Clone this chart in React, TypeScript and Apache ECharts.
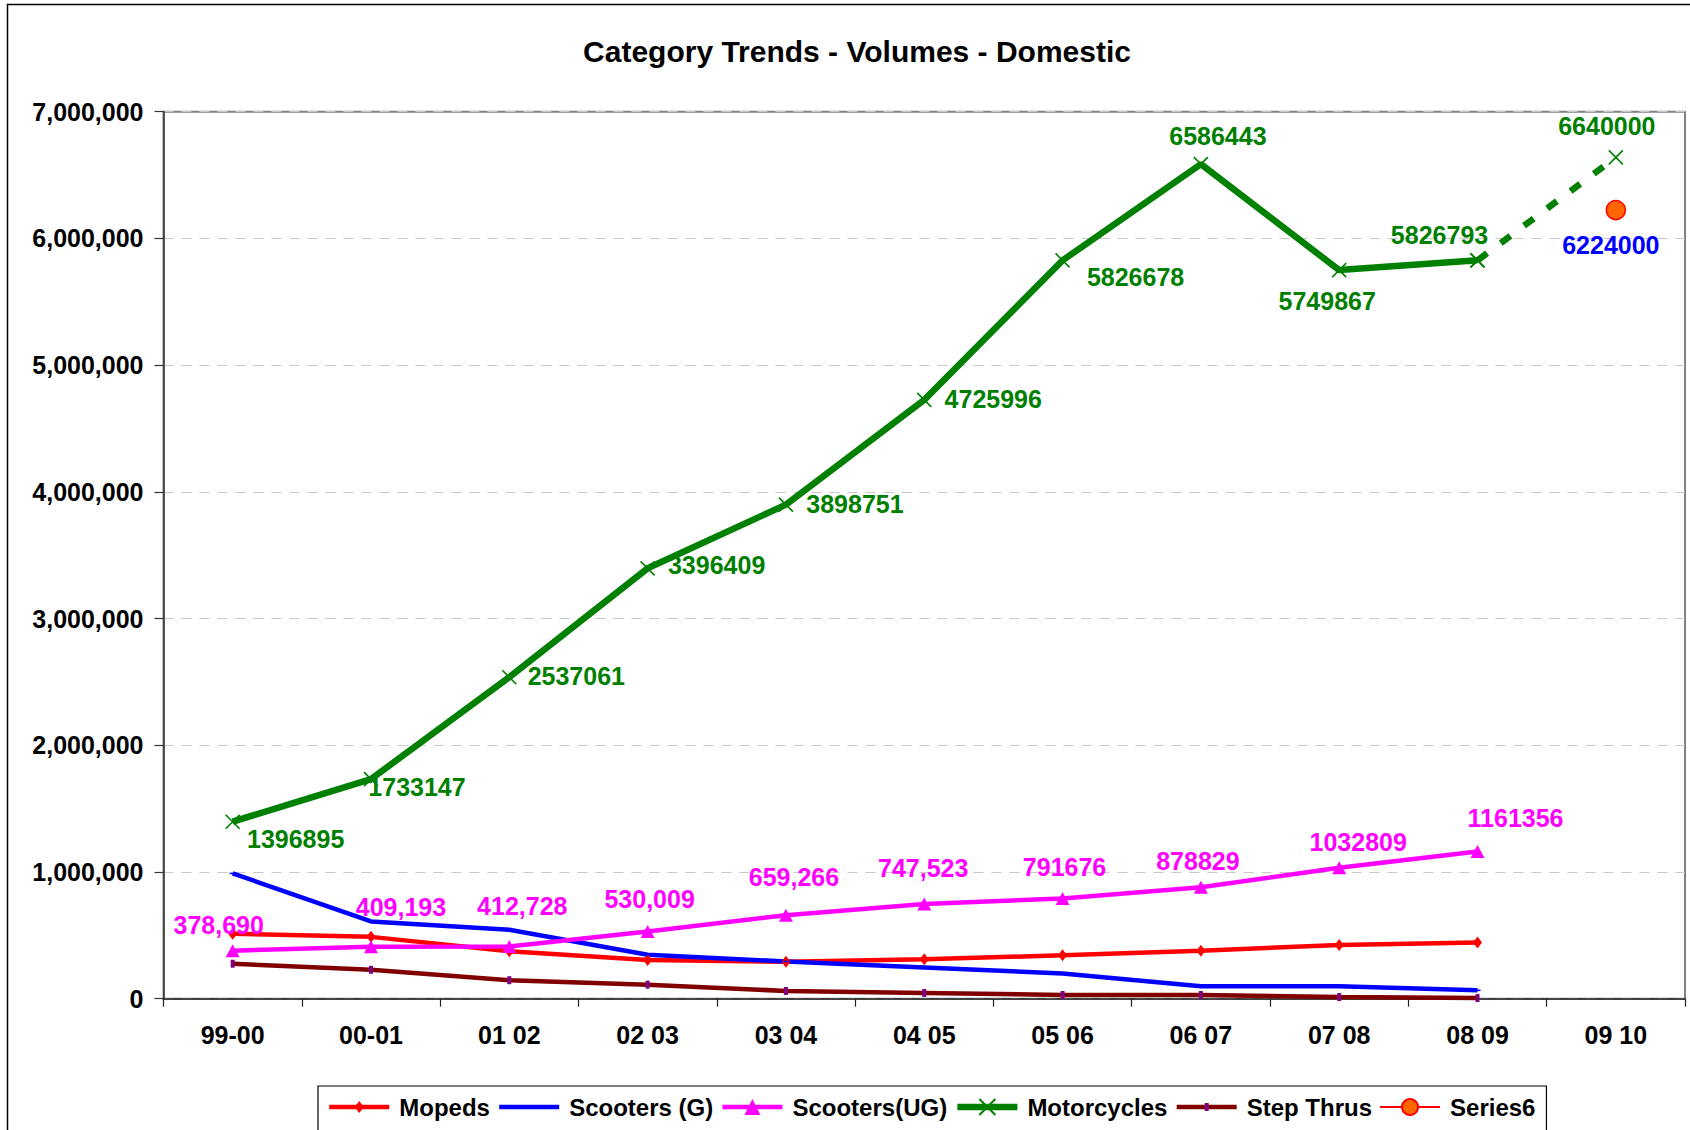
import React, { useEffect, useRef } from "react";
import * as echarts from "echarts";

const categories = ["99-00", "00-01", "01 02", "02 03", "03 04", "04 05", "05 06", "06 07", "07 08", "08 09", "09 10"];
const mopeds = [512000, 488000, 374000, 305000, 292000, 312000, 342000, 379000, 424000, 443000, null];
const scootersG = [989000, 610000, 544000, 347000, 294000, 247000, 199000, 98000, 98000, 66000, null];
const scootersUG = [378690, 409193, 412728, 530009, 659266, 747523, 791676, 878829, 1032809, 1161356, null];
const motorcycles = [1396895, 1733147, 2537061, 3396409, 3898751, 4725996, 5826678, 6586443, 5749867, 5826793, null];
const motorcyclesEst = [null, null, null, null, null, null, null, null, null, 5826793, 6640000];
const stepThrus = [276000, 228000, 146000, 111000, 61000, 45000, 29000, 29000, 13000, 5000, null];
const series6 = [null, null, null, null, null, null, null, null, null, null, 6224000];

const yTicks = { min: 0, max: 7000000, interval: 1000000 };
const ugCommaCount = 6; // first labels are shown with thousands separators

// label centre offsets from each point (px)
const motoLabelOffsets = [[63, 17], [46, 8], [67, -1], [69, -3], [69, -1], [69, -1], [73, 17], [17, -28], [-12, 31], [-38, -25]];
const motoEstLabelOffset = [-9, -31];
const ugLabelOffsets = [[-14, -26], [30, -40], [13, -40], [2, -33], [8, -38], [-1, -36], [2, -31], [-3, -26], [19, -26], [38, -34]];
const series6LabelOffset = [-5, 35];

const FONT = "'Liberation Sans', Arial, sans-serif";

// marker shapes drawn inside a 16x16 box (so legend icons keep their proportions)
const SYM_DIAMOND = "path://M0,0M16,16M8,2L12.5,8L8,14L3.5,8Z";
const SYM_DASH = "path://M0,0M16,16M5,7.2H11V8.8H5Z";
const SYM_BAR = "path://M0,0M16,16M6,4H10V12H6Z";
const SYM_X = "path://M1,1L15,15M15,1L1,15";

function labelled(values: (number | null)[], offsets: number[][], color: string, fmt: (v: number, i: number) => string) {
  return values.map((v, i) => {
    if (v == null) return null;
    const off = offsets[i];
    if (!off) return { value: v };
    return {
      value: v,
      label: {
        show: true,
        position: "inside",
        align: "center",
        verticalAlign: "middle",
        offset: off,
        color,
        fontSize: 25,
        fontWeight: "bold",
        fontFamily: FONT,
        textBorderWidth: 0,
        formatter: () => fmt(v, i),
      },
    };
  });
}

export default function App() {
  const ref = useRef<HTMLDivElement>(null);
  useEffect(() => {
    if (!ref.current) return;
    const chart = echarts.init(ref.current, undefined, { renderer: "svg" });
    const estOffsets: number[][] = [];
    estOffsets[10] = motoEstLabelOffset;
    const s6Offsets: number[][] = [];
    s6Offsets[10] = series6LabelOffset;

    chart.setOption({
      animation: false,
      backgroundColor: "#ffffff",
      textStyle: { fontFamily: FONT },
      title: {
        text: "Category Trends - Volumes - Domestic",
        left: 857,
        textAlign: "center",
        top: 36,
        padding: 0,
        textStyle: { fontSize: 30, fontWeight: "bold", color: "#000", fontFamily: FONT },
      },
      graphic: [
        {
          type: "rect",
          shape: { x: 7.5, y: 4.5, width: 1720, height: 1200 },
          style: { fill: "none", stroke: "#000", lineWidth: 1.5 },
          silent: true,
          z: -10,
        },
      ],
      legend: {
        left: 318,
        top: 1086,
        orient: "horizontal",
        padding: [9, 11, 30, 9],
        borderColor: "#000",
        borderWidth: 1.2,
        itemWidth: 60,
        itemHeight: 20,
        itemGap: 7,
        lineStyle: { width: "inherit" },
        data: ["Mopeds", "Scooters (G)", "Scooters(UG)", "Motorcycles", "Step Thrus", "Series6"],
        textStyle: { fontSize: 24, fontWeight: "bold", color: "#000", fontFamily: FONT, padding: [0, 0, 0, 5] },
      },
      grid: {
        left: 163.5,
        right: 5,
        top: 111.7,
        bottom: 131.3,
        show: true,
        borderColor: "#808080",
        borderWidth: 2,
        backgroundColor: "transparent",
      },
      xAxis: {
        type: "category",
        data: categories,
        boundaryGap: true,
        axisLine: { lineStyle: { color: "#222", width: 1.5 } },
        axisTick: { show: true, length: 8, lineStyle: { color: "#222", width: 1.2 } },
        axisLabel: { fontSize: 25, fontWeight: "bold", color: "#000", margin: 24, fontFamily: FONT },
      },
      yAxis: {
        type: "value",
        min: yTicks.min,
        max: yTicks.max,
        interval: yTicks.interval,
        axisLine: { show: true, lineStyle: { color: "#333", width: 1.5 } },
        axisTick: { show: true, length: 9, lineStyle: { color: "#333", width: 1.2 } },
        axisLabel: {
          fontSize: 25,
          fontWeight: "bold",
          color: "#000",
          margin: 20,
          fontFamily: FONT,
          formatter: (v: number) => v.toLocaleString("en-US"),
        },
        splitLine: { show: true, lineStyle: { color: "#c8c8c8", type: [10, 8], width: 1.2 } },
      },
      series: [
        {
          name: "Mopeds",
          type: "line",
          data: mopeds,
          symbol: SYM_DIAMOND,
          symbolSize: 16,
          itemStyle: { color: "#ff0000" },
          lineStyle: { color: "#ff0000", width: 4.5 },
        },
        {
          name: "Scooters (G)",
          type: "line",
          data: scootersG,
          symbol: SYM_DASH,
          symbolSize: 16,
          itemStyle: { color: "#0000ff" },
          lineStyle: { color: "#0000ff", width: 4.5 },
        },
        {
          name: "Scooters(UG)",
          type: "line",
          data: labelled(scootersUG, ugLabelOffsets, "#ff00ff", (v, i) =>
            i < ugCommaCount ? v.toLocaleString("en-US") : String(v)
          ),
          symbol: "triangle",
          symbolSize: [14, 13],
          itemStyle: { color: "#ff00ff" },
          lineStyle: { color: "#ff00ff", width: 4.5 },
        },
        {
          name: "Motorcycles",
          type: "line",
          data: labelled(motorcycles, motoLabelOffsets, "#008000", (v) => String(v)),
          symbol: SYM_X,
          symbolSize: 14,
          itemStyle: { color: "#008000", borderColor: "#008000", borderWidth: 1.6 },
          lineStyle: { color: "#008000", width: 6.5 },
          z: 3,
        },
        {
          name: "Motorcycles est",
          type: "line",
          data: labelled(motorcyclesEst, estOffsets, "#008000", (v) => String(v)),
          symbol: SYM_X,
          symbolSize: 14,
          itemStyle: { color: "#008000", borderColor: "#008000", borderWidth: 1.6 },
          lineStyle: { color: "#008000", width: 6.5, type: [12, 17] },
          z: 3,
        },
        {
          name: "Step Thrus",
          type: "line",
          data: stepThrus,
          symbol: SYM_BAR,
          symbolSize: 16,
          itemStyle: { color: "#800080" },
          lineStyle: { color: "#800000", width: 4.5 },
        },
        {
          name: "Series6",
          type: "line",
          data: labelled(series6, s6Offsets, "#0000ff", (v) => String(v)),
          symbol: "circle",
          symbolSize: 19,
          itemStyle: { color: "#ff6600", borderColor: "#ff0000", borderWidth: 1.5 },
          lineStyle: { color: "#ff0000", width: 2 },
          z: 4,
        },
      ],
    });
    return () => chart.dispose();
  }, []);
  return <div ref={ref} style={{ position: "absolute", left: 0, top: 0, width: 1690, height: 1130 }} />;
}
